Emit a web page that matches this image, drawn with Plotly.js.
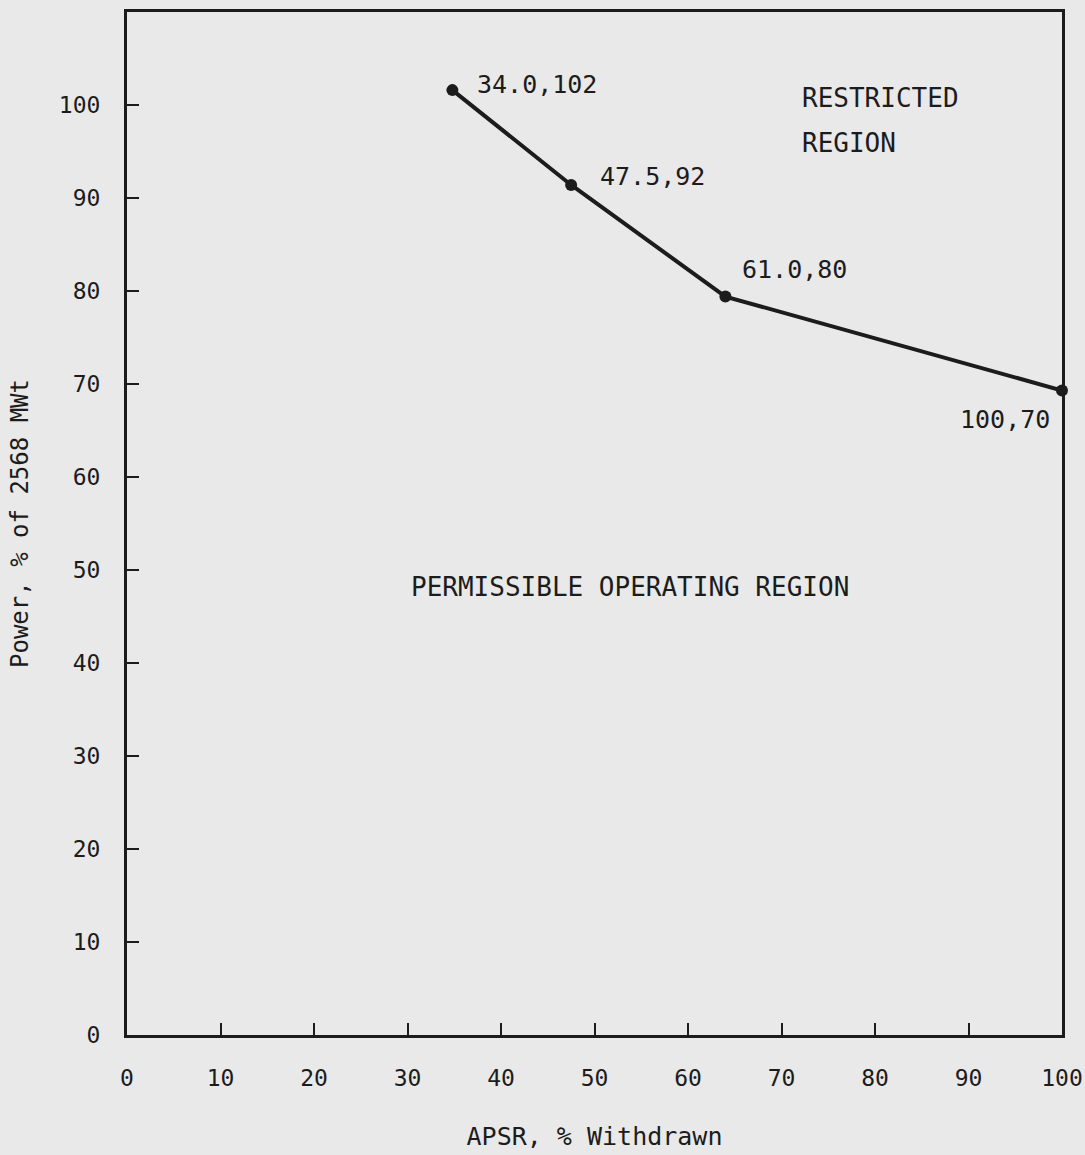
<!DOCTYPE html>
<html>
<head>
<meta charset="utf-8">
<script src="https://cdn.plot.ly/plotly-3.0.1.min.js"></script>
<style>
html,body{margin:0;padding:0;background:#e9e9e9;}
#chart{width:1085px;height:1155px;}
</style>
</head>
<body>
<div id="chart"></div>
<script>
// Data (positions of the plotted breakpoints)
const apsrWithdrawn = [34.8, 47.5, 64.0, 100];
const powerPct = [101.6, 91.4, 79.4, 69.3];
const pointLabels = ["34.0,102", "47.5,92", "61.0,80", "100,70"];
const xTicks = [0, 10, 20, 30, 40, 50, 60, 70, 80, 90, 100];
const yTicks = [0, 10, 20, 30, 40, 50, 60, 70, 80, 90, 100];
const regionLabels = ["RESTRICTED", "REGION", "PERMISSIBLE OPERATING REGION"];

const FONT = "DejaVu Sans Mono, Liberation Mono, monospace";
const INK = "#1c1c1c";

const trace = {
  x: apsrWithdrawn,
  y: powerPct,
  mode: "lines+markers",
  line: {color: INK, width: 4},
  marker: {color: INK, size: 12},
  hoverinfo: "skip",
  cliponaxis: false
};

// label offsets relative to each point (pixels)
const labelShift = [
  {xshift: 23, yshift: 6, xanchor: "left"},
  {xshift: 27, yshift: 8, xanchor: "left"},
  {xshift: 15, yshift: 27, xanchor: "left"},
  {xshift: -10, yshift: -29, xanchor: "right"}
];

const annotations = pointLabels.map((t, i) => Object.assign({
  x: apsrWithdrawn[i], y: powerPct[i], xref: "x", yref: "y",
  text: t, showarrow: false, yanchor: "middle",
  font: {family: FONT, size: 25, color: INK}
}, labelShift[i]));

annotations.push({
  x: 72, y: 100.75, xref: "x", yref: "y", text: regionLabels[0],
  showarrow: false, xanchor: "left", yanchor: "middle",
  font: {family: FONT, size: 26, color: INK}
});
annotations.push({
  x: 72, y: 95.9, xref: "x", yref: "y", text: regionLabels[1],
  showarrow: false, xanchor: "left", yanchor: "middle",
  font: {family: FONT, size: 26, color: INK}
});
annotations.push({
  x: 53.8, y: 48.2, xref: "x", yref: "y", text: regionLabels[2],
  showarrow: false, xanchor: "center", yanchor: "middle",
  font: {family: FONT, size: 26, color: INK}
});

const layout = {
  width: 1085, height: 1155,
  paper_bgcolor: "#e9e9e9",
  plot_bgcolor: "#e9e9e9",
  margin: {l: 127, r: 23, t: 12, b: 120},
  showlegend: false,
  font: {family: FONT, color: INK},
  xaxis: {
    range: [0, 100],
    tickvals: xTicks,
    ticktext: xTicks.map(String),
    ticks: "inside", ticklen: 12, tickwidth: 2, tickcolor: INK,
    showline: true, linecolor: INK, linewidth: 3, mirror: true,
    showgrid: false, zeroline: false,
    tickfont: {family: FONT, size: 23, color: INK},
    ticklabelstandoff: 20,
    title: {text: "APSR, % Withdrawn", font: {family: FONT, size: 25, color: INK}, standoff: 38}
  },
  yaxis: {
    range: [0, 110],
    tickvals: yTicks,
    ticktext: yTicks.map(String),
    ticks: "inside", ticklen: 12, tickwidth: 2, tickcolor: INK,
    showline: true, linecolor: INK, linewidth: 3, mirror: true,
    showgrid: false, zeroline: false,
    tickfont: {family: FONT, size: 23, color: INK},
    ticklabelstandoff: 19,
    title: {text: "Power, % of 2568 MWt", font: {family: FONT, size: 24, color: INK}, standoff: 24}
  },
  annotations: annotations
};

Plotly.newPlot("chart", [trace], layout, {displayModeBar: false, staticPlot: true});
</script>
</body>
</html>
